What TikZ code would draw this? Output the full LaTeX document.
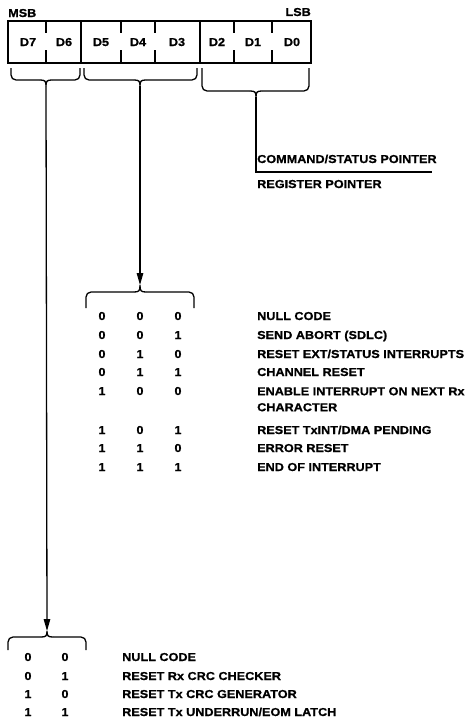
\documentclass[tikz,border=0pt]{standalone}
\usepackage{fontspec}
\setmainfont{Liberation Sans}[FakeStretch=1.1, BoldFeatures={FakeBold=0.8}]
\usetikzlibrary{arrows.meta}
\begin{document}
\begin{tikzpicture}[x=1pt,y=-1pt,
  lbl/.style={inner sep=0pt, font=\fontsize{11.5}{13}\selectfont\bfseries, text height=8pt, text depth=0pt},
  lft/.style={lbl, anchor=west},
  reg/.style={line width=1.9pt},
  brc/.style={line width=1.3pt, rounded corners=5pt},
  conn/.style={line width=1.3pt},
  arr/.style={conn, -{Triangle[length=12pt,width=6.5pt]}}]
\fill[white] (0,0) rectangle (466,720);
\useasboundingbox (0,0) rectangle (466,720);

% register box
\draw[reg] (8,21) rectangle (311,63);
\draw[reg] (81,21) -- (81,63);
\draw[reg] (200,21) -- (200,63);
\foreach \x in {46,121,155,234,272}{
  \draw[reg] (\x,21) -- (\x,33);
  \draw[reg] (\x,50) -- (\x,63);
}
\node[lbl, anchor=west] (msb) at (8,13) {MSB};
\node[lbl, anchor=east] (lsb) at (311,12) {LSB};
\node[lbl] (d7) at (28,42) {D7};
\node[lbl] (d6) at (64,42) {D6};
\node[lbl] (d5) at (101,42) {D5};
\node[lbl] (d4) at (138,42) {D4};
\node[lbl] (d3) at (177,42) {D3};
\node[lbl] (d2) at (217,42) {D2};
\node[lbl] (d1) at (253,42) {D1};
\node[lbl] (d0) at (292,42) {D0};

% braces under the register
\draw[brc] (11,68) -- (11,80) -- (40,80);
\draw[brc] (80,68) -- (80,80) -- (52,80);
\draw[conn] (40,80) .. controls (45,80) and (46,81) .. (46,86) .. controls (46,81) and (47,80) .. (52,80);
\coordinate (b1) at (46,86);

\draw[brc] (84,68) -- (84,80) -- (134,80);
\draw[brc] (197,68) -- (197,80) -- (146,80);
\draw[conn] (134,80) .. controls (139,80) and (140,81) .. (140,86) .. controls (140,81) and (141,80) .. (146,80);
\coordinate (b2) at (140,86);

\draw[brc] (202,68) -- (202,91) -- (250,91);
\draw[brc] (309,68) -- (309,91) -- (262,91);
\draw[conn] (250,91) .. controls (255,91) and (256,92) .. (256,97) .. controls (256,92) and (257,91) .. (262,91);
\coordinate (b3) at (256,97);

% pointer line
\coordinate (pc) at (256,172);
\coordinate (pe) at (432,172);
\draw[conn] (b3) -- (pc) -- (pe);
\node[lft] (cmdptr) at (257,159) {COMMAND/STATUS POINTER};
\node[lft] (regptr) at (257,184) {REGISTER POINTER};

% middle brace (cusp up)
\coordinate (m2) at (140,285);
\draw[brc] (86,308) -- (86,292) -- (134,292);
\draw[brc] (194,308) -- (194,292) -- (146,292);
\draw[conn] (134,292) .. controls (139,292) and (140,291) .. (140,285) .. controls (140,291) and (141,292) .. (146,292);
\draw[arr] (b2) -- (m2);

% bottom brace (cusp up)
\coordinate (m1) at (47,631);
\draw[brc] (8,650) -- (8,637) -- (41,637);
\draw[brc] (86,650) -- (86,637) -- (53,637);
\draw[conn] (41,637) .. controls (46,637) and (47,636) .. (47,631) .. controls (47,636) and (48,637) .. (53,637);
\draw[arr] (b1) -- (m1);

% middle table
\foreach \y/\a/\b/\c [count=\i] in {316/0/0/0, 335/0/0/1, 354/0/1/0, 372/0/1/1, 391/1/0/0, 430/1/0/1, 448/1/1/0, 467/1/1/1}{
  \node[lbl] (ma\i) at (102,\y) {\a};
  \node[lbl] (mb\i) at (140,\y) {\b};
  \node[lbl] (mc\i) at (178,\y) {\c};
}
\node[lft] (t1) at (257,316) {NULL CODE};
\node[lft] (t2) at (257,335) {SEND ABORT (SDLC)};
\node[lft] (t3) at (257,354) {RESET EXT/STATUS INTERRUPTS};
\node[lft] (t4) at (257,372) {CHANNEL RESET};
\node[lbl, anchor=north west, align=left, font=\fontsize{11.5}{16}\selectfont\bfseries, text height=, text depth=] (t5) at (257,387) {ENABLE INTERRUPT ON NEXT Rx\\CHARACTER};
\node[lft] (t6) at (257,430) {RESET TxINT/DMA PENDING};
\node[lft] (t7) at (257,448) {ERROR RESET};
\node[lft] (t8) at (257,467) {END OF INTERRUPT};

% bottom table
\foreach \y/\a/\b [count=\i] in {657/0/0, 676/0/1, 694/1/0, 712/1/1}{
  \node[lbl] (ba\i) at (28,\y) {\a};
  \node[lbl] (bb\i) at (65,\y) {\b};
}
\node[lft] (u1) at (122,657) {NULL CODE};
\node[lft] (u2) at (122,676) {RESET Rx CRC CHECKER};
\node[lft] (u3) at (122,694) {RESET Tx CRC GENERATOR};
\node[lft] (u4) at (122,712) {RESET Tx UNDERRUN/EOM LATCH};
\end{tikzpicture}
\end{document}
